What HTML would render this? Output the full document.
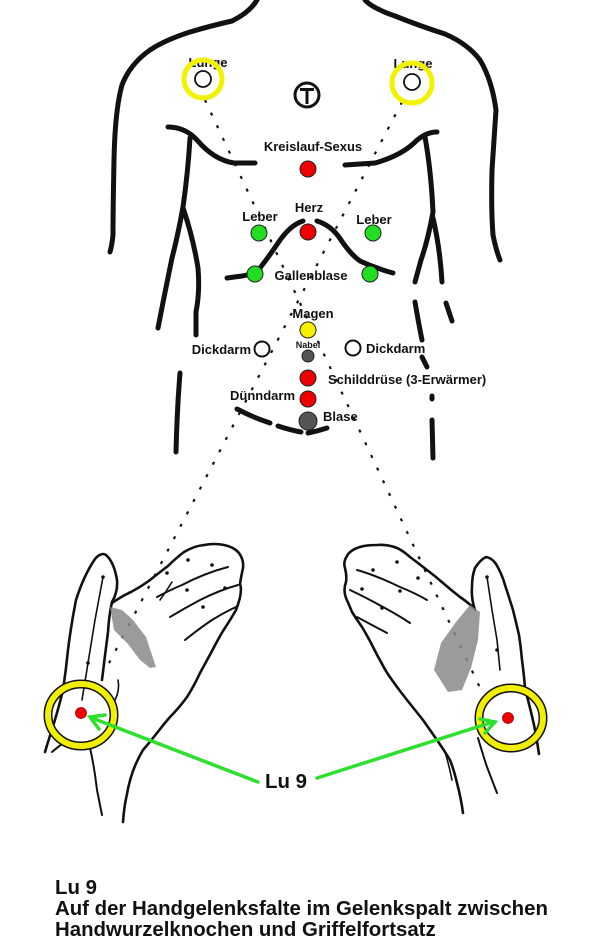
<!DOCTYPE html>
<html>
<head>
<meta charset="utf-8">
<style>
  html,body{margin:0;padding:0;background:#fff;}
  body{width:600px;height:942px;overflow:hidden;position:relative;font-family:"Liberation Sans",Arial,sans-serif;}
  svg{position:absolute;left:0;top:0;}
  .t{font-family:"Liberation Sans",Arial,sans-serif;font-weight:bold;font-size:13px;fill:#111;}
  .bottom{position:absolute;left:55px;top:878px;font-family:"Liberation Sans",Arial,sans-serif;font-weight:bold;font-size:20.4px;line-height:21px;color:#111;white-space:nowrap;}
</style>
</head>
<body>
<svg width="600" height="942" viewBox="0 0 600 942" xmlns="http://www.w3.org/2000/svg">
  <!-- body outline -->
  <g fill="none" stroke="#111" stroke-width="5" stroke-linecap="round" stroke-linejoin="round">
    <path d="M257,0 Q250,12 232,21 Q210,26 190,32 Q165,40 150,50 Q130,64 122,85 Q115,110 114,160 Q113,210 113,235 Q112,245 110,252"/>
    <path d="M365,0 Q372,8 395,16 Q420,26 445,34 Q468,44 480,60 Q492,80 496,110 Q494,140 492,170 Q491,210 493,235 Q496,250 500,260"/>
    <path d="M168,127 Q185,127 197,140 Q214,160 234,163 L255,163"/>
    <path d="M345,165 L375,163 Q400,156 414,143 Q425,132 437,132"/>
    <path d="M190,138 Q188,172 183,207 Q178,235 172,258 Q165,292 158,328"/>
    <path d="M183,208 Q193,237 198,268 Q200,292 196,312 L196,335"/>
    <path d="M180,373 Q177,410 176,452"/>
    <path d="M425,137 Q431,170 433,212 Q428,240 421,260 L415,282"/>
    <path d="M433,218 Q440,248 442,282"/>
    <path d="M415,302 Q418,320 422,340"/>
    <path d="M446,303 L452,321"/>
    <path d="M422,357 L427,367"/>
    <path d="M432,396 L432,399"/>
    <path d="M432,420 L433,458"/>
    <!-- heart curve -->
    <path d="M227,278 L242,276 Q254,274 260,268 Q270,255 278,243 Q290,225 303,221"/>
    <path d="M317,221 Q330,225 339,237 Q350,254 360,261 Q375,268 393,273"/>
    <!-- lower belly dashed -->
    <path d="M237,409 Q252,417 270,423"/>
    <path d="M278,426 Q290,430 301,432"/>
    <path d="M308,433 Q318,431 327,428"/>
  </g>

  <!-- dotted lines -->
  <g fill="none" stroke="#111" stroke-width="2.2" stroke-dasharray="3 11">
    <line x1="205" y1="100" x2="481" y2="690"/>
    <line x1="402" y1="102" x2="107" y2="667"/>
  </g>

  <!-- T symbol -->
  <circle cx="307" cy="95" r="12" fill="#fff" stroke="#111" stroke-width="3"/>
  <path d="M300,89.5 L314,89.5 M307,89.5 L307,104" stroke="#111" stroke-width="3" fill="none"/>

  <!-- labels -->
  <text class="t" x="208" y="67" text-anchor="middle">Lunge</text>
  <text class="t" x="413" y="68" text-anchor="middle">Lunge</text>
  <text class="t" x="313" y="151" text-anchor="middle">Kreislauf-Sexus</text>
  <text class="t" x="309" y="212" text-anchor="middle">Herz</text>
  <text class="t" x="260" y="221" text-anchor="middle">Leber</text>
  <text class="t" x="374" y="224" text-anchor="middle">Leber</text>
  <text class="t" x="311" y="280" text-anchor="middle">Gallenblase</text>
  <text class="t" x="313" y="318" text-anchor="middle">Magen</text>
  <text class="t" x="308" y="348" text-anchor="middle" style="font-size:9px">Nabel</text>
  <text class="t" x="251" y="354" text-anchor="end">Dickdarm</text>
  <text class="t" x="366" y="353">Dickdarm</text>
  <text class="t" x="328" y="384">Schilddrüse (3-Erwärmer)</text>
  <text class="t" x="295" y="400" text-anchor="end">Dünndarm</text>
  <text class="t" x="323" y="421">Blase</text>

  <!-- lung rings -->
  <circle cx="203" cy="79" r="8" fill="#fff" stroke="#111" stroke-width="1.8"/>
  <circle cx="203" cy="79" r="19" fill="none" stroke="#f2f200" stroke-width="5"/>
  <circle cx="412" cy="82" r="8" fill="#fff" stroke="#111" stroke-width="1.8"/>
  <circle cx="412" cy="83" r="20" fill="none" stroke="#f2f200" stroke-width="5"/>

  <!-- points -->
  <g stroke="#222" stroke-width="1">
    <circle cx="308" cy="169" r="8" fill="#ee0000"/>
    <circle cx="308" cy="232" r="8" fill="#ee0000"/>
    <circle cx="259" cy="233" r="8" fill="#22dd22"/>
    <circle cx="373" cy="233" r="8" fill="#22dd22"/>
    <circle cx="255" cy="274" r="8" fill="#22dd22"/>
    <circle cx="370" cy="274" r="8" fill="#22dd22"/>
    <circle cx="308" cy="330" r="8" fill="#f5f000"/>
    <circle cx="308" cy="356" r="6" fill="#555"/>
    <circle cx="308" cy="378" r="8" fill="#ee0000"/>
    <circle cx="308" cy="399" r="8" fill="#ee0000"/>
    <circle cx="308" cy="421" r="9" fill="#555"/>
  </g>
  <circle cx="262" cy="349" r="7.5" fill="#fff" stroke="#111" stroke-width="2"/>
  <circle cx="353" cy="348" r="7.5" fill="#fff" stroke="#111" stroke-width="2"/>

  <!-- LEFT HAND -->
  <g fill="none" stroke="#111" stroke-width="2.6" stroke-linecap="round" stroke-linejoin="round">
    <!-- thumb -->
    <path d="M63,690 Q66,670 68,650 Q71,625 76,600 Q84,575 95,559 Q101,552 106,555 Q114,562 117,580 Q118,592 112,602 Q109,615 108,632 Q105,655 102,680"/>
    <path d="M103,577 L95,620 L88,663 L82,700" stroke-width="1.6"/>
    <path d="M63,690 Q57,715 48,742 L45,752"/>
    <!-- palm & fingers -->
    <path d="M112,603 Q122,596 131,592 Q142,586 150,580 Q160,572 168,566 Q176,558 184,552 Q194,546 204,545 Q215,543 224,545 Q234,547 239,553 Q244,560 243,568 Q241,577 240,584 Q243,592 236,610 Q229,622 223,631 Q217,641 212,651 Q206,662 200,673 Q194,686 187,697 Q179,708 170,717 Q163,725 157,733 Q150,742 143,750 Q137,760 133,771 Q129,782 127,794 Q124,807 123,822"/>
    <path d="M157,597 Q170,590 182,585 Q205,573 228,567" stroke-width="2"/>
    <path d="M170,617 Q185,608 200,600 Q220,590 238,585" stroke-width="2"/>
    <path d="M185,640 Q200,628 212,620 Q225,612 236,607" stroke-width="2"/>
    <path d="M160,600 Q167,590 172,582" stroke-width="1.6"/>
    <!-- wrist / arm -->
    <path d="M90,748 Q94,765 97,790 Q100,805 102,815" stroke-width="2"/>
    <path d="M52,752 Q60,745 68,740" stroke-width="2"/>
    <path d="M115,700 Q120,690 118,680" stroke-width="1.6"/>
  </g>
  <g fill="#111">
    <circle cx="188" cy="560" r="1.8"/><circle cx="212" cy="565" r="1.8"/>
    <circle cx="167" cy="573" r="1.8"/><circle cx="187" cy="590" r="1.8"/>
    <circle cx="225" cy="588" r="1.8"/><circle cx="203" cy="607" r="1.8"/>
    <circle cx="103" cy="577" r="1.8"/><circle cx="88" cy="663" r="1.8"/>
  </g>
  <path d="M110,607 L122,610 L133,620 L146,637 L156,667 L150,668 L140,660 L128,644 L114,630 Z" fill="#8a8a8a" opacity="0.85"/>

  <!-- RIGHT HAND -->
  <g fill="none" stroke="#111" stroke-width="2.6" stroke-linecap="round" stroke-linejoin="round">
    <path d="M474,608 Q466,601 460,597 Q451,590 443,583 Q435,576 427,570 Q418,563 410,557 Q402,550 397,548 Q387,544 377,545 Q366,545 360,547 Q350,550 347,556 Q343,562 345,568 Q347,576 346,582 Q343,590 346,598 Q350,607 352,612 Q357,620 362,627 Q368,637 372,645 Q377,655 381,662 Q386,672 392,680 Q399,690 407,700 Q415,710 423,720 Q430,730 437,740 Q444,750 450,760 Q454,770 457,783 Q461,798 463,813"/>
    <!-- thumb -->
    <path d="M475,610 Q471,598 472,587 Q472,576 475,568 Q480,560 486,557 Q492,558 496,564 Q502,574 505,585 Q509,597 513,610 Q516,622 519,635 Q521,648 522,660 Q524,675 525,688 Q528,700 531,712 Q534,724 536,735 L539,754"/>
    <path d="M487,577 L492,610 L497,640 L500,670" stroke-width="1.6"/>
    <path d="M357,570 Q375,575 400,587 Q415,593 427,600" stroke-width="2"/>
    <path d="M350,590 Q365,597 383,607 Q398,615 410,623" stroke-width="2"/>
    <path d="M357,617 Q372,625 387,633" stroke-width="2"/>
    <path d="M478,738 Q483,755 487,767 Q492,780 497,793" stroke-width="2"/>
    <path d="M445,752 Q449,765 452,780" stroke-width="1.6"/>
  </g>
  <g fill="#111">
    <circle cx="397" cy="562" r="1.8"/><circle cx="373" cy="570" r="1.8"/>
    <circle cx="418" cy="578" r="1.8"/><circle cx="362" cy="589" r="1.8"/>
    <circle cx="400" cy="591" r="1.8"/><circle cx="382" cy="608" r="1.8"/>
    <circle cx="487" cy="577" r="1.8"/><circle cx="497" cy="650" r="1.8"/>
  </g>
  <path d="M470,605 L480,612 L478,640 L471,668 L462,690 L448,692 L434,670 L441,643 L456,622 Z" fill="#8a8a8a" opacity="0.85"/>

  <!-- wrist rings -->
  <ellipse cx="81" cy="715" rx="33" ry="31" fill="none" stroke="#111" stroke-width="9"/>
  <ellipse cx="81" cy="715" rx="33" ry="31" fill="none" stroke="#f2ee00" stroke-width="6"/>
  <circle cx="81" cy="713" r="5.5" fill="#ee0000" stroke="#a00" stroke-width="0.8"/>
  <ellipse cx="511" cy="718" rx="32" ry="30" fill="none" stroke="#111" stroke-width="9"/>
  <ellipse cx="511" cy="718" rx="32" ry="30" fill="none" stroke="#f2ee00" stroke-width="6"/>
  <circle cx="508" cy="718" r="5.5" fill="#ee0000" stroke="#a00" stroke-width="0.8"/>

  <!-- green arrows -->
  <g fill="none" stroke="#2ee02e" stroke-width="3.5" stroke-linecap="round">
    <path d="M258,782 L92,718"/>
    <path d="M99,729 L90,717 L105,715"/>
    <path d="M317,778 L493,722"/>
    <path d="M480,719 L495,722 L485,733"/>
  </g>
  <text x="265" y="788" style="font-family:'Liberation Sans',Arial,sans-serif;font-weight:bold;font-size:20.4px;fill:#111">Lu 9</text>
</svg>

<div class="bottom">Lu 9<br>Auf der Handgelenksfalte im Gelenkspalt zwischen<br>Handwurzelknochen und Griffelfortsatz</div>
</body>
</html>
